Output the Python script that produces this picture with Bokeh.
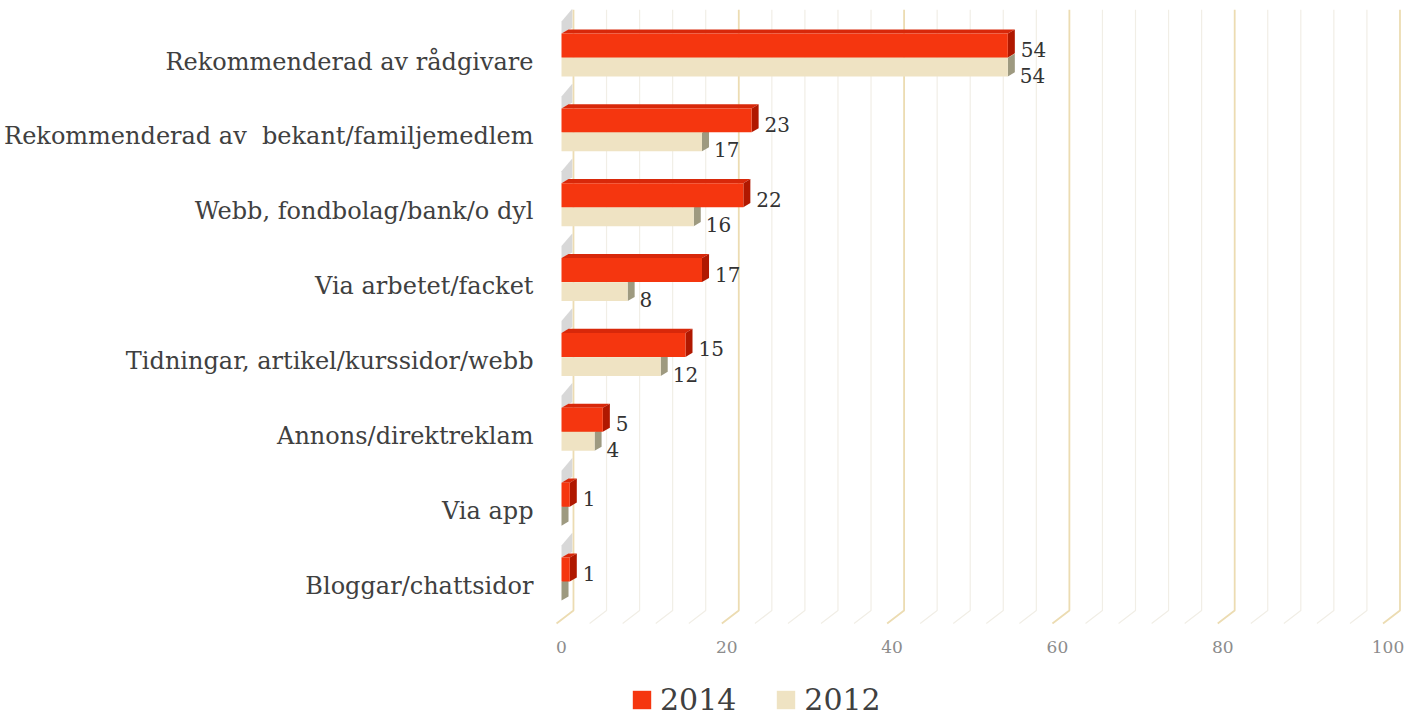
from bokeh.plotting import figure
from bokeh.layouts import column
from bokeh.models import (ColumnDataSource, Range1d, FixedTicker, Legend, LegendItem)
from bokeh.core.properties import value
from bokeh.embed import file_html
from bokeh.resources import INLINE

# ---- data ----
categories = ["Rekommenderad av rådgivare",
              "Rekommenderad av\u00a0 bekant/familjemedlem",
              "Webb, fondbolag/bank/o dyl",
              "Via arbetet/facket",
              "Tidningar, artikel/kurssidor/webb",
              "Annons/direktreklam",
              "Via app",
              "Bloggar/chattsidor"]
series_2014 = [54, 23, 22, 17, 15, 5, 1, 1]
series_2012 = [54, 17, 16, 8, 12, 4, 0, 0]
x_ticks = [0, 20, 40, 60, 80, 100]
legend_labels = ["2014", "2012"]
colors = ["#f5360f", "#efe3c3"]

FONT = "DejaVu Serif"
n = len(categories)
ypos = [n - 1 - i for i in range(n)]

# 3D styling constants (data units)
DX = 0.85      # depth of bar side face (x)
DY = 0.055     # depth rise (y)
BACK = 1.45    # grid back plane offset
FRONT = 0.6    # grid front plane offset
FLOOR_B = -0.334
FLOOR_F = -0.508
Y_TOP = 7.815
GRID_TOP = 7.69

p = figure(width=1416, height=664,
           x_range=Range1d(-1.573, 102.48), y_range=Range1d(-0.547, Y_TOP),
           output_backend="svg", toolbar_location=None,
           min_border_left=548, min_border_right=8, min_border_top=0,
           min_border_bottom=38)
p.outline_line_color = None
p.xgrid.grid_line_color = None
p.ygrid.grid_line_color = None
p.background_fill_color = "white"

# ---- 3D gridlines ----
gx_minor, gy_minor, gx_major, gy_major = [], [], [], []
for t in range(0, 101, 4):
    xs = [t + BACK, t + BACK, t - FRONT]
    ys = [GRID_TOP, FLOOR_B, FLOOR_F]
    if t % 20 == 0:
        gx_major.append(xs); gy_major.append(ys)
    else:
        gx_minor.append(xs); gy_minor.append(ys)
p.multi_line(gx_minor, gy_minor, line_color="#f1eee6", line_width=1.2)
p.multi_line(gx_major, gy_major, line_color="#ecdcb2", line_width=1.8)

# ---- bars ----
R_OFF, R_H = 0.214, 0.16
B_OFF, B_H = -0.075, 0.125

def faces(vals, off, h):
    front = dict(left=[0] * n, right=vals,
                 bottom=[y + off - h for y in ypos], top=[y + off + h for y in ypos])
    side_x, side_y, top_x, top_y = [], [], [], []
    for v, y in zip(vals, ypos):
        c = y + off
        side_x.append([v, v + DX, v + DX, v])
        side_y.append([c - h, c - h + DY, c + h + DY, c + h])
        top_x.append([0, v, v + DX, DX])
        top_y.append([c + h, c + h, c + h + DY, c + h + DY])
    return front, side_x, side_y, top_x, top_y

# wall shadows
sh_x, sh_y = [], []
for y in ypos:
    t = y + R_OFF + R_H
    sh_x.append([0, 1.3, 1.3, 0])
    sh_y.append([t, t + DY + 0.02, t + 0.33, t + 0.16])
p.patches(sh_x, sh_y, fill_color="#a8a8a8", fill_alpha=0.45, line_color=None)

# 2012 (beige)
fb, sxb, syb, txb, tyb = faces(series_2012, B_OFF, B_H)
p.patches(txb, tyb, fill_color="#e4d6ae", line_color=None)
p.patches(sxb, syb, fill_color="#9e9a80", line_color=None)
p.quad(source=ColumnDataSource(fb), left="left", right="right",
       bottom="bottom", top="top", fill_color=colors[1], line_color=None)

# 2014 (red)
fr, sxr, syr, txr, tyr = faces(series_2014, R_OFF, R_H)
p.patches(txr, tyr, fill_color="#d8280a", line_color=None)
p.patches(sxr, syr, fill_color="#b01800", line_color=None)
p.quad(source=ColumnDataSource(fr), left="left", right="right",
       bottom="bottom", top="top", fill_color=colors[0], line_color=None)

# ---- value labels ----
lab_r = dict(x=[v for v in series_2014 if v > 0],
             y=[y + R_OFF for v, y in zip(series_2014, ypos) if v > 0],
             t=[str(v) for v in series_2014 if v > 0])
lab_b = dict(x=[v for v in series_2012 if v > 0],
             y=[y + B_OFF for v, y in zip(series_2012, ypos) if v > 0],
             t=[str(v) for v in series_2012 if v > 0])
p.text(x="x", y="y", text="t", source=ColumnDataSource(lab_r), x_offset=13, y_offset=4,
       text_font=value(FONT), text_font_size="20px", text_color="#333333",
       text_baseline="middle", text_align="left")
p.text(x="x", y="y", text="t", source=ColumnDataSource(lab_b), x_offset=12, y_offset=8,
       text_font=value(FONT), text_font_size="20px", text_color="#333333",
       text_baseline="middle", text_align="left")

# ---- axes ----
p.yaxis.ticker = FixedTicker(ticks=ypos)
p.yaxis.major_label_overrides = {y: c for y, c in zip(ypos, categories)}
p.yaxis.axis_line_color = None
p.yaxis.major_tick_line_color = None
p.yaxis.minor_tick_line_color = None
p.yaxis.major_tick_out = 0
p.yaxis.major_tick_in = 0
p.yaxis.major_label_standoff = 15
p.yaxis.major_label_text_font = FONT
p.yaxis.major_label_text_font_size = "24px"
p.yaxis.major_label_text_color = "#404040"

p.xaxis.ticker = FixedTicker(ticks=x_ticks)
p.xaxis.axis_line_color = None
p.xaxis.major_tick_line_color = None
p.xaxis.minor_tick_line_color = None
p.xaxis.major_tick_out = 0
p.xaxis.major_tick_in = 0
p.xaxis.major_label_standoff = 14
p.xaxis.major_label_text_font = FONT
p.xaxis.major_label_text_font_size = "17px"
p.xaxis.major_label_text_color = "#8c8c8c"

# ---- legend (separate strip below the chart) ----
lg = figure(width=1416, height=55, x_range=Range1d(0, 1), y_range=Range1d(0, 1),
            output_backend="svg", toolbar_location=None,
            min_border_left=0, min_border_right=0, min_border_top=0, min_border_bottom=0,
            x_axis_type=None, y_axis_type=None)
lg.outline_line_color = None
lg.xgrid.grid_line_color = None
lg.ygrid.grid_line_color = None
swatches = [lg.quad(left=[0], right=[0], bottom=[0], top=[0], fill_color=c, line_color=None)
            for c in colors]
legend = Legend(items=[LegendItem(label=lab, renderers=[r])
                       for lab, r in zip(legend_labels, swatches)],
                orientation="horizontal", location=(82, 2),
                glyph_width=23, glyph_height=23, label_standoff=7, spacing=38,
                padding=0, margin=0, border_line_color=None,
                background_fill_alpha=0,
                label_text_font=FONT, label_text_font_size="30px",
                label_text_color="#404040", label_height=23)
lg.add_layout(legend, "center")

layout = column(p, lg, spacing=0)
open("out.html", "w").write(file_html(layout, INLINE))
